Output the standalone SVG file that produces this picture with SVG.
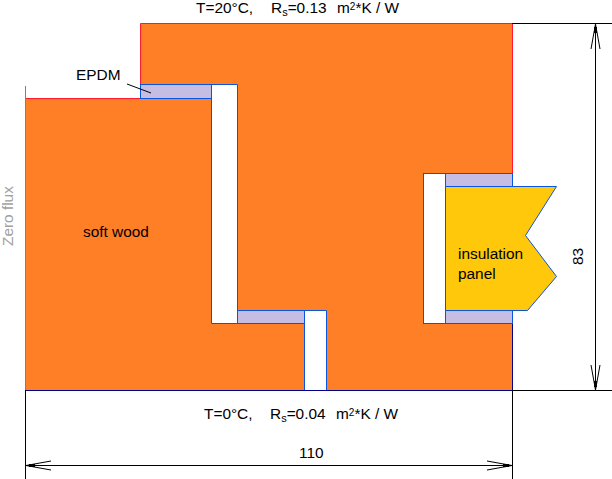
<svg xmlns="http://www.w3.org/2000/svg" width="612" height="479" viewBox="0 0 612 479">
<style>
.wood{fill:#ff7f27;stroke:none}
.red{fill:none;stroke:#ff1a2e;stroke-width:1}
.navy{fill:none;stroke:#000090;stroke-width:1}
.gray{fill:none;stroke:#808080;stroke-width:1}
.void{fill:#fff;stroke:#0a55e0;stroke-width:1}
.epdm{fill:#c5bde4;stroke:#0a55e0;stroke-width:1}
.ins{fill:#ffc80a;stroke:#0a55e0;stroke-width:1}
.dim{fill:none;stroke:#000;stroke-width:1}
.head{fill:none;stroke:#000;stroke-width:1}
text{font-family:"Liberation Sans",Arial,sans-serif;font-size:15.4px;fill:#000}
</style>
<g id="wood-body">
<path class="wood" d="M25 98.500H140.500V23.500H512.500V390.500H25Z"/>
<path class="red" d="M25 98.500H140.500V23.500H512.500V173.500"/>
<path class="navy" d="M512.500 323.500V390.500H25"/>
<path class="gray" d="M25.500 86V390"/>
<text x="83" y="237">soft wood</text>
</g>
<g id="air-gap-1"><path class="void" d="M211.500 84.500H237.500V323.500H211.500Z"/></g>
<g id="epdm-1"><rect class="epdm" x="140.500" y="84.500" width="71" height="14"/></g>
<g id="epdm-2"><rect class="epdm" x="237.500" y="310.500" width="67" height="13"/></g>
<g id="air-gap-2"><path class="void" d="M304.500 390V310.500H326.500V390"/></g>
<g id="air-gap-3"><rect class="void" x="423.500" y="173.500" width="22" height="150"/></g>
<g id="epdm-3"><rect class="epdm" x="445.500" y="173.500" width="67" height="13"/></g>
<g id="epdm-4"><rect class="epdm" x="445.500" y="310.500" width="67" height="13"/></g>
<g id="insulation-panel">
<path class="ins" d="M445.500 186.500H556.500L525.500 235.500L556.500 276.500L527.500 310.500H445.500Z"/>
<text x="458" y="259">insulation</text>
<text x="458" y="279">panel</text>
</g>
<g id="connectors">
<path class="dim" d="M127 84L151 93"/>
<path class="dim" d="M25.500 390V479M512.500 390V479M25 465.500H512M512 23.500H612M512 390.500H612M595.500 23V390"/>
<path class="head" d="M51 461L26 465.500L51 470M487 461L512 465.500L487 470M591 49L595.500 24L600 49M591 365L595.500 390L600 365"/>
<path d="M29 464H35V467H29ZM503 464H509V467H503ZM594 27H597V33H594ZM594 381H597V387H594Z" fill="#000"/>
</g>
<g id="labels">
<text x="196" y="13">T=20°C,</text>
<text x="271" y="13">R<tspan font-size="11" dy="3">s</tspan><tspan dy="-3">=0.13</tspan></text>
<text x="337" y="13">m<tspan font-size="10" dy="-3.500">2</tspan><tspan dy="3.500">*K / W</tspan></text>
<text x="204" y="419">T=0°C,</text>
<text x="270" y="419">R<tspan font-size="11" dy="3">s</tspan><tspan dy="-3">=0.04</tspan></text>
<text x="336" y="419">m<tspan font-size="10" dy="-3.500">2</tspan><tspan dy="3.500">*K / W</tspan></text>
<text x="76" y="80">EPDM</text>
<text x="299" y="458">110</text>
<text transform="translate(583 265) rotate(-90)">83</text>
<text transform="translate(13 246) rotate(-90)" style="fill:#a0a0a0">Zero flux</text>
</g>
</svg>
